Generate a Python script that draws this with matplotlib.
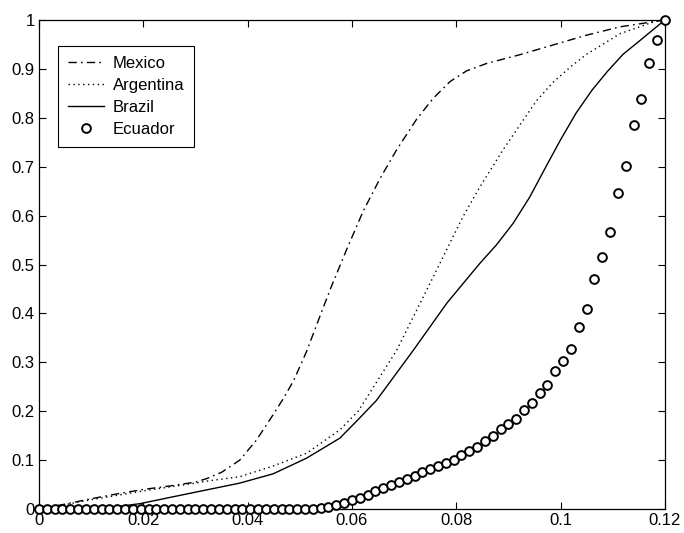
import numpy as np
import matplotlib
matplotlib.use("Agg")
import matplotlib.pyplot as plt

plt.rcParams['font.family'] = ['Liberation Sans', 'DejaVu Sans']

# cumulative curves
mexico_x = [0, 0.005, 0.01, 0.015, 0.02, 0.025, 0.03, 0.0321, 0.035, 0.0385,
            0.0417, 0.0449, 0.0468, 0.0488, 0.0513, 0.0545, 0.0561, 0.059,
            0.0622, 0.0654, 0.0686, 0.0724, 0.0756, 0.0788, 0.082, 0.0858,
            0.0922, 0.0986, 0.105, 0.1114, 0.12]
mexico_y = [0, 0.01, 0.021, 0.031, 0.04, 0.047, 0.055, 0.062, 0.075, 0.10,
            0.141, 0.193, 0.225, 0.262, 0.322, 0.412, 0.456, 0.531,
            0.610, 0.676, 0.735, 0.797, 0.840, 0.874, 0.896, 0.911,
            0.929, 0.949, 0.969, 0.986, 1.0]

argentina_x = [0, 0.005, 0.01, 0.015, 0.02, 0.025, 0.03, 0.0321, 0.0385,
               0.0449, 0.0513, 0.0577, 0.0612, 0.0686, 0.075, 0.0813, 0.0845,
               0.089, 0.0922, 0.0954, 0.0986, 0.102, 0.105, 0.1114, 0.1178,
               0.12]
argentina_y = [0, 0.009, 0.019, 0.028, 0.037, 0.045, 0.053, 0.057, 0.066,
               0.088, 0.114, 0.162, 0.20, 0.325, 0.462, 0.598, 0.658,
               0.735, 0.785, 0.835, 0.873, 0.905, 0.930, 0.972, 0.996, 1.0]

brazil_x = [0, 0.005, 0.01, 0.015, 0.0194, 0.0257, 0.0321, 0.0385, 0.0449,
            0.0513, 0.0577, 0.0612, 0.0647, 0.0718, 0.0782, 0.0845, 0.0877,
            0.0909, 0.0941, 0.097, 0.1, 0.103, 0.106, 0.109, 0.112, 0.115,
            0.12]
brazil_y = [0, 0.001, 0.002, 0.005, 0.011, 0.025, 0.039, 0.053, 0.072,
            0.104, 0.145, 0.183, 0.222, 0.325, 0.421, 0.502, 0.540,
            0.584, 0.638, 0.696, 0.755, 0.810, 0.856, 0.895, 0.930, 0.956,
            1.0]

ecuador_x = np.linspace(0, 0.12, 81)
ecuador_y = [0.0] * 35 + [
    0.001, 0.003, 0.005, 0.008, 0.012, 0.018, 0.023, 0.029, 0.036, 0.042,
    0.050, 0.056, 0.062, 0.067, 0.076, 0.081, 0.087, 0.095, 0.100, 0.111,
    0.119, 0.127, 0.140, 0.149, 0.164, 0.174, 0.185, 0.202, 0.216, 0.237,
    0.253, 0.282, 0.303, 0.327, 0.373, 0.408, 0.470, 0.516, 0.566, 0.647,
    0.702, 0.785, 0.839, 0.913, 0.959, 1.0]

x_ticks = [0, 0.02, 0.04, 0.06, 0.08, 0.1, 0.12]
x_labels = ['0', '0.02', '0.04', '0.06', '0.08', '0.1', '0.12']
y_ticks = [0, 0.1, 0.2, 0.3, 0.4, 0.5, 0.6, 0.7, 0.8, 0.9, 1]
y_labels = ['0', '0.1', '0.2', '0.3', '0.4', '0.5', '0.6', '0.7', '0.8', '0.9', '1']

fig = plt.figure(figsize=(6.84, 5.33), dpi=100)
ax = fig.add_axes([0.057, 0.045, 0.915, 0.9175])

ax.plot(mexico_x, mexico_y, color='black', lw=1.0,
        linestyle=(0, (6, 3, 1.2, 3)), label='Mexico')
ax.plot(argentina_x, argentina_y, color='black', lw=1.0,
        linestyle=(0, (1, 2.5)), label='Argentina')
ax.plot(brazil_x, brazil_y, color='black', lw=1.0, label='Brazil')
ax.plot(ecuador_x, ecuador_y, linestyle='none', marker='o', ms=6.3,
        mfc='white', mec='black', mew=1.4, label='Ecuador', clip_on=False,
        zorder=5)

ax.set_xlim(0, 0.12)
ax.set_ylim(0, 1)
ax.set_xticks(x_ticks)
ax.set_xticklabels(x_labels)
ax.set_yticks(y_ticks)
ax.set_yticklabels(y_labels)
ax.tick_params(direction='in', length=5, width=0.8, top=True, right=True,
               labelsize=12, pad=3)
for s in ax.spines.values():
    s.set_linewidth(0.9)

leg = ax.legend(loc='upper left', bbox_to_anchor=(0.03, 0.947),
                borderaxespad=0, fancybox=False, edgecolor='black',
                framealpha=1, fontsize=12, handlelength=2.2,
                labelspacing=0.42, handletextpad=0.5, borderpad=0.6)
leg.get_frame().set_linewidth(0.8)

fig.savefig('out.png', dpi=100)
